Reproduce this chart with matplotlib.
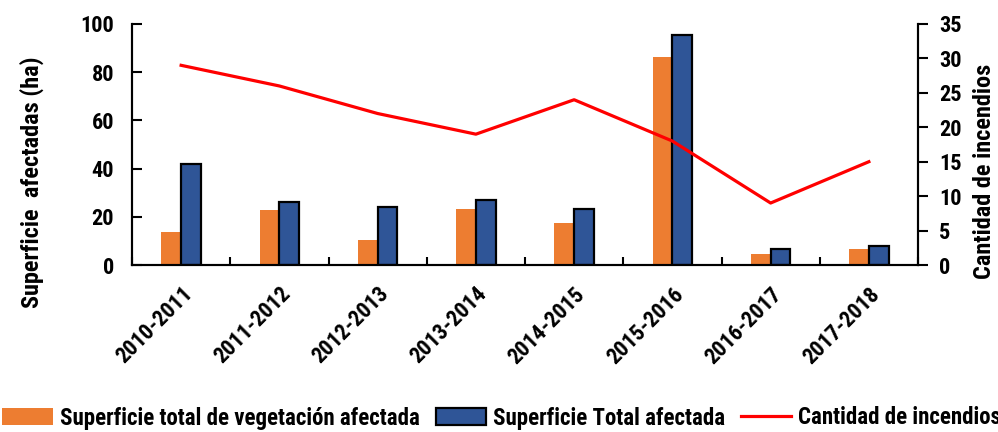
import matplotlib
matplotlib.use("Agg")
import matplotlib.pyplot as plt
import numpy as np

# data
periodos = ['2010-2011', '2011-2012', '2012-2013', '2013-2014',
            '2014-2015', '2015-2016', '2016-2017', '2017-2018']
sup_vegetacion = [13.7, 22.8, 10.4, 23.2, 17.4, 86.3, 4.6, 6.6]
sup_total = [41.9, 26.1, 24.1, 27.0, 23.2, 95.4, 6.7, 7.9]
n_incendios = [29, 26, 22, 19, 24, 18, 9, 15]

plt.rcParams['font.family'] = ['Roboto Condensed', 'DejaVu Sans']
plt.rcParams['font.weight'] = 'bold'

fig = plt.figure(figsize=(9.98, 4.32), dpi=100)
ax = fig.add_axes([132/998, 1-265/432, (918-132)/998, (265-24)/432])
ax2 = ax.twinx()

x = np.arange(len(periodos))
w = 0.2
b1 = ax.bar(x - w/2, sup_vegetacion, w, color='#ED7D31', edgecolor='none',
            label='Superficie total de vegetación afectada')
b2 = ax.bar(x + w/2, sup_total, w, color='#2F5597', edgecolor='black',
            linewidth=1.6, label='Superficie Total afectada')
l1, = ax2.plot(x, n_incendios, color='#FF0000', linewidth=2.3,
               label='Cantidad de incendios')

ax.set_xlim(-0.5, len(periodos) - 0.5)
ax.set_ylim(0, 100)
ax2.set_ylim(0, 35)
ax.set_yticks(range(0, 101, 20))
ax2.set_yticks(range(0, 36, 5))

ax.set_xticks(x)
ax.set_xticklabels(periodos, rotation=45, ha='right', rotation_mode='anchor',
                   fontsize=16, fontweight='bold')
ax.tick_params(axis='x', length=0, pad=13)
ax.set_xticks(np.arange(len(periodos) + 1) - 0.5, minor=True)
ax.tick_params(axis='x', which='minor', direction='in', length=6, width=1.5)
ax.tick_params(axis='y', direction='in', length=7, width=1.5, labelsize=16, pad=13)
ax2.tick_params(axis='y', direction='out', length=7, width=1.5, labelsize=16, pad=8)

for a in (ax, ax2):
    a.spines['top'].set_visible(False)
    for s in ('left', 'right', 'bottom'):
        a.spines[s].set_linewidth(1.5)
    for lab in a.get_yticklabels():
        lab.set_fontweight('bold')

ax.set_ylabel('Superficie  afectadas (ha)', fontsize=17.5, fontweight='bold')
ax.yaxis.set_label_coords(-0.112, 0.344)
ax2.set_ylabel('Cantidad de incendios', fontsize=17.5, fontweight='bold')
ax2.yaxis.set_label_coords(1.07, 0.39)

fig.legend(handles=[b1, b2, l1], loc='center left', bbox_to_anchor=(0.0, 1 - 418/432),
           ncol=3, frameon=False, prop={'weight': 'bold', 'size': 16.5},
           handlelength=2.2, handleheight=0.75, handletextpad=0.3,
           columnspacing=0.7, borderaxespad=0.0, borderpad=0.1)

fig.savefig('out.png', dpi=100)
